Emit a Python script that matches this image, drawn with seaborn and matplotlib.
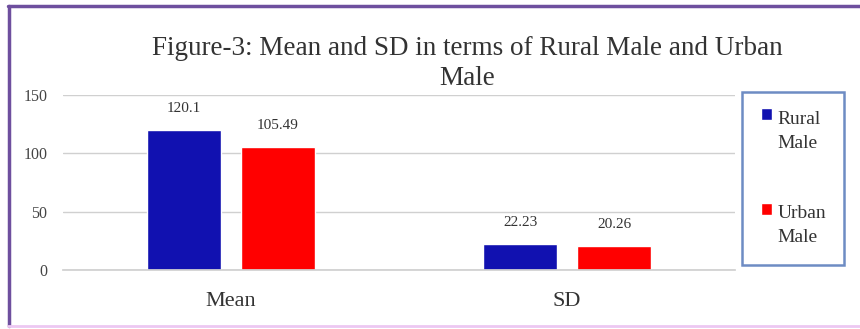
import pandas as pd
import matplotlib.pyplot as plt
import seaborn as sns
from matplotlib.lines import Line2D

# data
stats = ["Mean", "SD"]
rural_male = [120.1, 22.23]
urban_male = [105.49, 20.26]
groups = ["Rural Male", "Urban Male"]
legend_labels = ["Rural\nMale", "Urban\nMale"]
yticks = [0, 50, 100, 150]

df = pd.DataFrame({
    "Stat": stats * 2,
    "Value": rural_male + urban_male,
    "Group": [groups[0]] * len(stats) + [groups[1]] * len(stats),
})

sns.set_theme(style="white")
plt.rcParams['font.family'] = ['Liberation Serif', 'DejaVu Serif']

fig = plt.figure(figsize=(8.6, 3.29), dpi=100)
ax = fig.add_axes([0.073, 0.179, 0.782, 0.532])

palette = {"Rural Male": "#1111B0", "Urban Male": "#FF0000"}
sns.barplot(data=df, x="Stat", y="Value", hue="Group", palette=palette,
            width=0.56, gap=0.21, saturation=1, ax=ax, legend=True)

# 数值标签
for cont in ax.containers:
    ax.bar_label(cont, labels=[f"{v:g}" for v in cont.datavalues],
                 padding=11, fontsize=11, color="#333333")

ax.set_ylim(0, 150)
ax.set_yticks(yticks)
ax.set_xlim(-0.5, 1.5)
ax.grid(axis="y", color="#d0d0d0", linewidth=1)
ax.set_axisbelow(True)
for s in ["top", "right", "left"]:
    ax.spines[s].set_visible(False)
ax.spines["bottom"].set_color("#d0d0d0")
ax.tick_params(axis="y", labelsize=11.5, labelcolor="#444444", length=0, pad=11)
ax.tick_params(axis="x", labelsize=16, labelcolor="#333333", length=0, pad=16)
ax.set_xlabel("")
ax.set_ylabel("")

# legend on the right, tall box with blue frame
handles, _ = ax.get_legend_handles_labels()
ax.get_legend().remove()
leg = fig.legend(handles, legend_labels, loc="upper left",
                 bbox_to_anchor=(0.863, 0.72), fontsize=14,
                 frameon=True, fancybox=False, handlelength=0.6,
                 handleheight=0.6, handletextpad=0.25, labelspacing=2.75,
                 borderpad=0.95, borderaxespad=0)
leg.get_frame().set_edgecolor("#4a6fb5")
leg.get_frame().set_linewidth(1.8)
for t in leg.get_texts():
    t.set_color("#333333")
    t.set_linespacing(1.55)
# put the colour square next to the first line of each label
for h in leg.legend_handles:
    h.set_y(h.get_y() + 12)

fig.text(0.543, 0.89, "Figure-3: Mean and SD in terms of Rural Male and Urban\nMale",
         ha="center", va="top", fontsize=19.5, color="#333333", linespacing=1.25)

# outer border: purple on top and left, light pink at the bottom
fig.add_artist(Line2D([0.009, 1.0], [0.982, 0.982], transform=fig.transFigure,
                      color="#6e4f9e", linewidth=2.5))
fig.add_artist(Line2D([0.011, 0.011], [0.008, 0.982], transform=fig.transFigure,
                      color="#6e4f9e", linewidth=2.5))
fig.add_artist(Line2D([0.009, 1.0], [0.008, 0.008], transform=fig.transFigure,
                      color="#ecc8f2", linewidth=2))

fig.savefig("out.png", dpi=100)
